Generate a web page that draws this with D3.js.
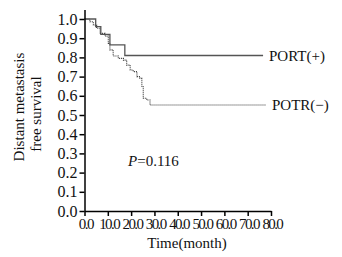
<!DOCTYPE html>
<html><head><meta charset="utf-8">
<script src="https://cdn.jsdelivr.net/npm/d3@7"></script>
<style>
body{margin:0;background:#fff;}
text{font-family:"Liberation Serif","Times New Roman",serif;fill:#111;}
</style></head>
<body><svg id="c" width="342" height="257"></svg>
<script>
// Data
const xTicks = [0,10,20,30,40,50,60,70,80];
const xTickLabels = ["0.0","10.0","20.0","30.0","40.0","50.0","60.0","70.0","80.0"];
const yTicks = [0,0.1,0.2,0.3,0.4,0.5,0.6,0.7,0.8,0.9,1.0];
const yTickLabels = ["0.0","0.1","0.2","0.3","0.4","0.5","0.6","0.7","0.8","0.9","1.0"];
const portTimes = [0, 4.8, 7.0, 10.9, 17.3, 76.6];
const portSurv  = [1.0, 0.96, 0.92, 0.865, 0.81, 0.81];
const potrTimes = [0, 0.7, 2.3, 3.8, 5.2, 6.7, 8.8, 10.2, 10.9, 12.3, 14.5, 16.7, 18.1, 19.6, 20.9, 22.5, 23.8, 24.6, 25.2, 26.7, 28.1, 77.8];
const potrSurv  = [1.0, 1.0, 0.986, 0.969, 0.952, 0.925, 0.911, 0.873, 0.839, 0.807, 0.795, 0.786, 0.76, 0.734, 0.726, 0.70, 0.691, 0.647, 0.587, 0.578, 0.552, 0.552];
const seriesNames = ["PORT(+)", "POTR(\u2212)"];
const pValue = "=0.116";

const svg = d3.select("#c");
const x = d3.scaleLinear().domain([0,80]).range([84.5, 271]);
const y = d3.scaleLinear().domain([0,1.05]).range([211, 9.4]);

const line = d3.line().x(d=>x(d[0])).y(d=>y(d[1])).curve(d3.curveStepAfter);
const port = portTimes.map((t,i)=>[t,portSurv[i]]);
const potr = potrTimes.map((t,i)=>[t,potrSurv[i]]);

svg.append("path").attr("d", line(potr)).attr("fill","none")
  .attr("stroke","#333").attr("stroke-width",1.1).attr("stroke-dasharray","1,1");
svg.append("path").attr("d", line(port)).attr("fill","none")
  .attr("stroke","#555").attr("stroke-width",1.3);

// axes
const gx = svg.append("g").attr("transform","translate(0,211)")
  .call(d3.axisBottom(x).tickValues(xTicks).tickFormat((d,i)=>xTickLabels[i]).tickSize(5).tickSizeOuter(0).tickPadding(2));
gx.selectAll("text").style("font-size","15px").style("letter-spacing","-1.6px").attr("dx","0.8px");
const gy = svg.append("g").attr("transform","translate(84.5,0)")
  .call(d3.axisLeft(y).tickValues(yTicks).tickFormat((d,i)=>yTickLabels[i]).tickSize(5).tickSizeOuter(0).tickPadding(2));
gy.selectAll("text").style("font-size","16px");
svg.selectAll(".domain, .tick line").attr("stroke","#000").attr("stroke-width",1.5);

// series labels
svg.append("text").attr("x",269).attr("y",y(portSurv[portSurv.length-1])).attr("dy","0.35em")
  .style("font-size","15px").text(seriesNames[0]);
svg.append("text").attr("x",272).attr("y",y(potrSurv[potrSurv.length-1])).attr("dy","0.35em")
  .style("font-size","15px").text(seriesNames[1]);

// P value
const pt = svg.append("text").attr("x",128).attr("y",161).attr("dy","0.35em").style("font-size","15px");
pt.append("tspan").style("font-style","italic").text("P");
pt.append("tspan").text(pValue);

// axis titles
svg.append("text").attr("x",187).attr("y",243).attr("dy","0.35em").attr("text-anchor","middle")
  .style("font-size","15px").text("Time(month)");
svg.append("text").attr("transform","translate(19,107) rotate(-90)").attr("dy","0.35em").attr("text-anchor","middle")
  .style("font-size","15px").text("Distant metastasis");
svg.append("text").attr("transform","translate(36,114) rotate(-90)").attr("dy","0.35em").attr("text-anchor","middle")
  .style("font-size","15px").text("free survival");
</script></body></html>
